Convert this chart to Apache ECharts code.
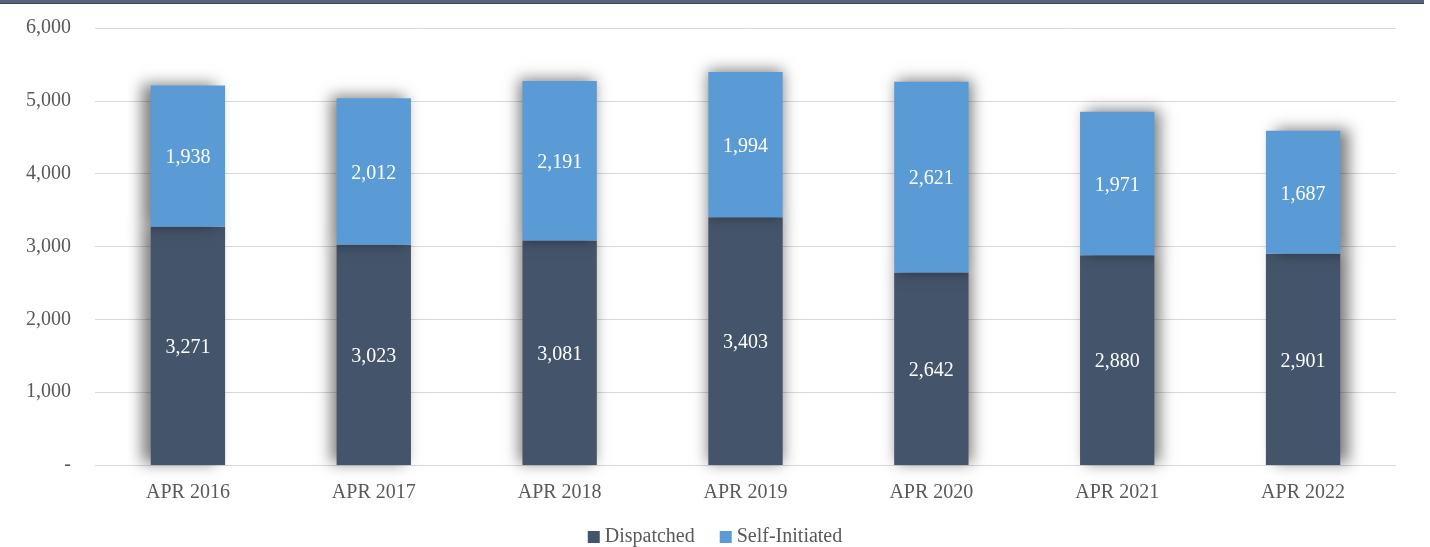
<!DOCTYPE html>
<html>
<head>
<meta charset="utf-8">
<script src="https://cdn.jsdelivr.net/npm/echarts@6/dist/echarts.min.js"></script>
<style>html,body{margin:0;padding:0;background:#fff;}#c{width:1430px;height:547px;}</style>
</head>
<body>
<div id="c"></div>
<script>
var categories = ['APR 2016','APR 2017','APR 2018','APR 2019','APR 2020','APR 2021','APR 2022'];
var dispatched = [3271,3023,3081,3403,2642,2880,2901];
var selfInitiated = [1938,2012,2191,1994,2621,1971,1687];
var seriesNames = ['Dispatched','Self-Initiated'];

var FONT = '"Liberation Serif", "DejaVu Serif", serif';
var chart = echarts.init(document.getElementById('c'), null, {renderer:'canvas'});

function build(values, color) {
  return values.map(function(v, i){
    return {
      value: v,
      itemStyle: {
        color: color,
        shadowColor: 'rgba(0,0,0,0.5)',
        shadowBlur: 14,
        shadowOffsetX: (i - 3) * 3,
        shadowOffsetY: -2
      }
    };
  });
}

var labelCfg = {
  show: true, position: 'inside', color: '#ffffff',
  fontFamily: FONT, fontSize: 20, offset: [0, 2],
  formatter: function(p){ return p.value.toLocaleString('en-US'); }
};

chart.setOption({
  animation: false,
  backgroundColor: '#ffffff',
  graphic: [
    {type:'rect', shape:{x:0,y:0,width:1424,height:3}, style:{fill:'#56657a'}},
    {type:'rect', shape:{x:0,y:3,width:1424,height:1}, style:{fill:'#3a4556'}}
  ],
  grid: {left:95, right:34, top:28, bottom:82, containLabel:false},
  legend: {
    top: 522, left: 'center',
    itemWidth: 12, itemHeight: 12, itemGap: 25,
    icon: 'rect',
    textStyle: {fontFamily: FONT, fontSize: 20, color:'#595959'},
    data: seriesNames
  },
  xAxis: {
    type: 'category', data: categories,
    axisLine: {show:true, lineStyle:{color:'#d9d9d9', width:1}},
    axisTick: {show:false},
    axisLabel: {fontFamily: FONT, fontSize: 20, color:'#595959', margin: 18}
  },
  yAxis: {
    type: 'value', min: 0, max: 6000, interval: 1000,
    axisLine: {show:false}, axisTick: {show:false},
    splitLine: {lineStyle:{color:'#d9d9d9', width:1}},
    axisLabel: {
      fontFamily: FONT, fontSize: 20, color:'#595959', margin: 24,
      formatter: function(v){ return v === 0 ? '-' : v.toLocaleString('en-US'); }
    }
  },
  series: [
    {name: seriesNames[0], type:'bar', stack:'total', barWidth:'40%',
     itemStyle:{color:'#44546A'}, label: labelCfg, data: build(dispatched, '#44546A')},
    {name: seriesNames[1], type:'bar', stack:'total', barWidth:'40%',
     itemStyle:{color:'#5B9BD5'}, label: labelCfg, data: build(selfInitiated, '#5B9BD5')}
  ]
});
</script>
</body>
</html>
